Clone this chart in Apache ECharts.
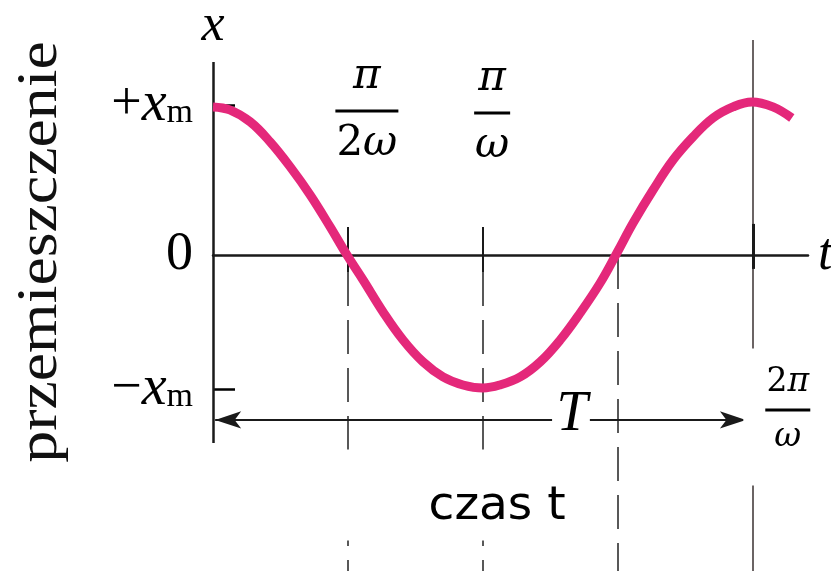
<!DOCTYPE html>
<html lang="pl">

<head>
    <meta charset="UTF-8">
    <meta name="viewport" content="width=device-width, initial-scale=1.0">
    <script src="https://cdn.jsdelivr.net/npm/echarts@6/dist/echarts.min.js"></script>
    <style>
        html, body { margin: 0; padding: 0; background: #fff; }
        #graph { width: 831px; height: 571px; }
    </style>
</head>

<body>
    <main id="content">
        <section id="graph"></section>
    </main>

    <script>
        // time in units of the period T, displacement in units of x_m
        const timeT = [0, 0.031, 0.069, 0.106, 0.143, 0.18, 0.217, 0.248, 0.278, 0.315, 0.352,
            0.389, 0.426, 0.463, 0.5, 0.531, 0.569, 0.606, 0.643, 0.68, 0.717, 0.748,
            0.778, 0.815, 0.852, 0.889, 0.926, 0.963, 0.998, 1.037, 1.072];
        const displacement = [0.987, 0.967, 0.887, 0.753, 0.587, 0.4, 0.187, 0, -0.167, -0.38, -0.567,
            -0.713, -0.813, -0.867, -0.887, -0.867, -0.813, -0.713, -0.567, -0.387, -0.187, 0.013,
            0.213, 0.433, 0.633, 0.787, 0.913, 0.987, 1.02, 0.987, 0.913];

        const yTickValues = [1, 0, -0.893];
        const yTickLabels = ['{p|+}{i|x}{s|m}', '{p|0}', '{p|−}{i|x}{s|m}'];
        const quarterTicks = [0.25, 0.5, 0.75, 1];
        const fracPos = [[0.285, 0.96], [0.517, 0.947], [1.059, -1.08]];

        const xRange = [0, 1.102];
        const yRange = [-2.107, 1.433];
        const yAxisSpan = [-1.253, 1.287];
        const arrowY = -1.1;
        const arrowGap = [0.628, 0.698, 0.987];

        const myChart = echarts.init(document.getElementById('graph'));

        const serif = 'Liberation Serif';
        const mathFont = 'DejaVu Serif';
        const ink = '#1a1a1a';
        const dashed = { color: '#222', width: 1.5, type: [34, 14] };

        function seg(a, b, style) {
            return [{ coord: a, lineStyle: style }, { coord: b }];
        }

        const guides = [
            seg([0, yAxisSpan[0]], [0, yAxisSpan[1]], { color: ink, width: 2.5, type: 'solid' }),
            seg([quarterTicks[0], 0.187], [quarterTicks[0], -0.113], { color: ink, width: 2, type: 'solid' }),
            seg([quarterTicks[0], -0.113], [quarterTicks[0], yRange[0]], dashed),
            seg([quarterTicks[1], 0.187], [quarterTicks[1], -0.113], { color: ink, width: 2, type: 'solid' }),
            seg([quarterTicks[1], -0.113], [quarterTicks[1], yRange[0]], dashed),
            seg([quarterTicks[2], 0], [quarterTicks[2], yRange[0]], dashed),
            seg([quarterTicks[3], yRange[1]], [quarterTicks[3], yRange[0]], { color: '#3a3030', width: 1.5, type: 'solid' }),
            seg([quarterTicks[3], 0.207], [quarterTicks[3], -0.093], { color: ink, width: 3, type: 'solid' })
        ];

        const fracRich = {
            n: { fontFamily: mathFont, fontStyle: 'italic', fontSize: 42, lineHeight: 64, color: '#000' },
            u: { fontFamily: mathFont, fontSize: 42, lineHeight: 64, color: '#000' },
            bar: { width: 63, height: 3, lineHeight: 3, backgroundColor: '#000' },
            bar2: { width: 36, height: 3, lineHeight: 3, backgroundColor: '#000' },
            n2: { fontFamily: mathFont, fontStyle: 'italic', fontSize: 33, lineHeight: 52, color: '#000' },
            u2: { fontFamily: mathFont, fontSize: 33, lineHeight: 52, color: '#000' },
            bar3: { width: 45, height: 3, lineHeight: 3, backgroundColor: '#000' }
        };
        const fracText = [
            '{n|π}\n{bar| }\n{u|2}{n|ω}',
            '{n|π}\n{bar2| }\n{n|ω}',
            '{u2|2}{n2|π}\n{bar3| }\n{n2|ω}'
        ];

        const option = {
            animation: false,
            grid: { left: 213, right: 23, top: 40, bottom: 0, outerBoundsMode: 'none', containLabel: false },
            xAxis: {
                type: 'value',
                min: xRange[0],
                max: xRange[1],
                axisLine: { onZero: true, lineStyle: { color: ink, width: 2.5 } },
                axisTick: { show: false },
                axisLabel: { show: false },
                splitLine: { show: false },
                name: 't',
                nameLocation: 'end',
                nameGap: 10,
                nameTextStyle: { fontFamily: serif, fontStyle: 'italic', fontSize: 52, color: '#000', verticalAlign: 'middle' }
            },
            yAxis: {
                type: 'value',
                min: yRange[0],
                max: yRange[1],
                axisLine: { show: false },
                splitLine: { show: false },
                axisTick: {
                    show: true,
                    inside: true,
                    length: 22,
                    customValues: [yTickValues[0], yTickValues[2]],
                    lineStyle: { color: '#000', width: 2.5 }
                },
                axisLabel: {
                    margin: 20,
                    customValues: yTickValues,
                    formatter: v => yTickLabels[yTickValues.indexOf(v)],
                    rich: {
                        p: { fontFamily: serif, fontSize: 54, lineHeight: 50, color: '#000' },
                        i: { fontFamily: serif, fontStyle: 'italic', fontSize: 56, lineHeight: 50, color: '#000' },
                        s: { fontFamily: serif, fontSize: 34, lineHeight: 18, verticalAlign: 'bottom', color: '#000' }
                    }
                },
                name: 'x',
                nameLocation: 'end',
                nameGap: -12,
                nameTextStyle: { fontFamily: serif, fontStyle: 'italic', fontSize: 52, color: '#000', align: 'center', verticalAlign: 'bottom' }
            },
            graphic: [{
                type: 'text',
                x: 41,
                y: 252,
                rotation: Math.PI / 2,
                scaleX: 1.1,
                style: {
                    text: 'przemieszczenie',
                    font: '58px "Liberation Serif"',
                    fill: '#111',
                    align: 'center',
                    verticalAlign: 'middle'
                }
            }],
            series: [
                {
                    name: 'przemieszczenie',
                    type: 'line',
                    smooth: 0.4,
                    symbol: 'none',
                    z: 5,
                    lineStyle: { color: '#e4287a', width: 9 },
                    data: timeT.map((t, i) => [t, displacement[i]])
                },
                {
                    name: 'guides',
                    type: 'line',
                    data: [],
                    z: 3,
                    markLine: {
                        silent: true,
                        symbol: 'none',
                        label: { show: false },
                        animation: false,
                        data: guides
                    }
                },
                {
                    name: 'T',
                    type: 'line',
                    data: [],
                    z: 3,
                    markLine: {
                        silent: true,
                        animation: false,
                        symbolSize: [13, 26],
                        label: { show: false },
                        lineStyle: { color: ink, width: 2, type: 'solid' },
                        data: [
                            [{ coord: [0.004, arrowY], symbol: 'arrow' }, { coord: [arrowGap[0], arrowY], symbol: 'none' }],
                            [{ coord: [arrowGap[1], arrowY], symbol: 'none' }, { coord: [arrowGap[2], arrowY], symbol: 'arrow' }]
                        ]
                    }
                },
                {
                    name: 'labels',
                    type: 'scatter',
                    symbolSize: 0,
                    silent: true,
                    z: 10,
                    itemStyle: { opacity: 1 },
                    data: [
                        { value: fracPos[0], label: { formatter: fracText[0] } },
                        { value: fracPos[1], label: { formatter: fracText[1] } },
                        {
                            value: fracPos[2],
                            label: {
                                formatter: fracText[2],
                                backgroundColor: '#fff',
                                padding: [8, 16, 22, 22]
                            }
                        },
                        {
                            value: [0.665, -1.067],
                            label: {
                                formatter: 'T',
                                fontFamily: serif,
                                fontStyle: 'italic',
                                fontSize: 56,
                                color: '#000'
                            }
                        },
                        {
                            value: [0.404, -1.6],
                            label: {
                                formatter: 'czas t',
                                fontFamily: 'DejaVu Sans',
                                fontSize: 47,
                                color: '#000',
                                backgroundColor: '#fff',
                                padding: [34, 8, 10, 140]
                            }
                        }
                    ],
                    label: {
                        show: true,
                        position: 'inside',
                        align: 'center',
                        verticalAlign: 'middle',
                        color: '#000',
                        rich: fracRich
                    }
                }
            ]
        };

        myChart.setOption(option);
    </script>
</body>

</html>
